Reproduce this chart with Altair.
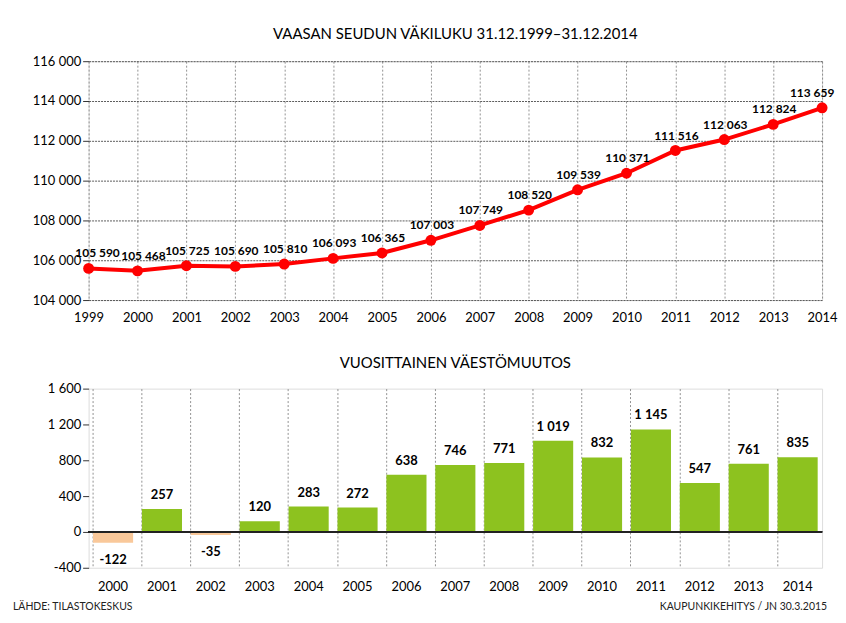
import altair as alt
import pandas as pd

years = list(range(1999, 2015))
population = [105590, 105468, 105725, 105690, 105810, 106093, 106365, 107003,
              107749, 108520, 109539, 110371, 111516, 112063, 112824, 113659]

change_years = [str(y) for y in range(2000, 2015)]
change = [-122, 257, -35, 120, 283, 272, 638, 746, 771, 1019, 832, 1145, 547, 761, 835]

FONT = "Lato, Roboto, sans-serif"


def fi(n):
    s = f"{abs(n):,}".replace(",", " ")
    return ("-" if n < 0 else "") + s


pop_df = pd.DataFrame({"year": years, "pop": population,
                       "label": [fi(v) for v in population]})
chg_df = pd.DataFrame({"year": change_years, "chg": change,
                       "label": [fi(v) for v in change],
                       "sign": ["neg" if v < 0 else "pos" for v in change],
                       "zero": [0] * len(change)})

num_expr = "replace(replace(format(datum.value, ','), ',', ' '), '\u2212', '-')"

W = 737
GRID_V = dict(gridDash=[2, 2], gridColor="#777", gridWidth=0.8)

top_base = alt.Chart(pop_df).encode(
    x=alt.X("year:Q", scale=alt.Scale(domain=[1999, 2014], nice=False, zero=False),
            axis=alt.Axis(values=years, format="d", title=None, grid=True,
                          labelFlush=False, labelOverlap=False,
                          domain=False, ticks=False, labelPadding=12,
                          labelFontSize=13, labelFont=FONT, labelColor="#000",
                          **GRID_V)),
    y=alt.Y("pop:Q", scale=alt.Scale(domain=[104000, 116000], nice=False, zero=False),
            axis=alt.Axis(values=list(range(104000, 116001, 2000)), labelExpr=num_expr,
                          title=None, grid=True, gridDash=[2, 1], gridColor="#333",
                          gridWidth=0.8, domain=False, tickSize=6, tickColor="#333",
                          labelFontSize=13, labelFont=FONT, labelColor="#000",
                          labelOverlap=False, labelFlush=False,
                          minExtent=60, maxExtent=60)),
)

top_line = top_base.mark_line(color="#FF0000", strokeWidth=4)
top_pts = top_base.mark_circle(color="#FF0000", size=120, opacity=1)
lbl = dict(fontWeight="bold", fontSize=12, font=FONT, color="#000", dy=-15)
top_txt_mid = top_base.transform_filter(
    "datum.year > 2000 && datum.year < 2014").mark_text(dx=1, **lbl).encode(text="label:N")
top_txt_first = top_base.transform_filter("datum.year == 1999").mark_text(
    dx=9, **lbl).encode(text="label:N")
top_txt_second = top_base.transform_filter("datum.year == 2000").mark_text(
    dx=6, **lbl).encode(text="label:N")
top_txt_last = top_base.transform_filter("datum.year == 2014").mark_text(
    dx=-10, **lbl).encode(text="label:N")

top = alt.layer(top_line, top_pts, top_txt_mid, top_txt_first, top_txt_second,
                top_txt_last).properties(
    width=W, height=240,
    title=alt.TitleParams("VAASAN SEUDUN VÄKILUKU 31.12.1999–31.12.2014",
                          fontSize=15, font=FONT, fontWeight="normal",
                          color="#000", offset=13))

y_scale = alt.Scale(domain=[-400, 1600], nice=False)
y_axis = alt.Axis(values=list(range(-400, 1601, 400)), labelExpr=num_expr,
                  title=None, grid=False, domain=False, tickSize=6,
                  tickColor="#333", labelFontSize=13, labelFont=FONT,
                  labelColor="#000", labelOverlap=False, labelFlush=False,
                  minExtent=60, maxExtent=60)

bot_base = alt.Chart(chg_df).encode(
    x=alt.X("year:N", scale=alt.Scale(paddingInner=0.18, paddingOuter=0.09),
            axis=alt.Axis(title=None, labelAngle=0, grid=True, bandPosition=0,
                          domain=False, ticks=False, labelPadding=13,
                          labelFontSize=13, labelFont=FONT, labelColor="#000",
                          **GRID_V)),
)

bars = bot_base.mark_bar().encode(
    y=alt.Y("chg:Q", scale=y_scale, axis=y_axis),
    color=alt.Color("sign:N", scale=alt.Scale(domain=["pos", "neg"],
                                              range=["#8DC21F", "#F9C89A"]),
                    legend=None),
)

zero_rule = alt.Chart(chg_df).mark_rule(color="#222", strokeWidth=1.2).encode(
    y=alt.Y("zero:Q", scale=y_scale, axis=y_axis))

pos_txt = bot_base.transform_filter("datum.chg >= 0").mark_text(
    dy=-14, fontWeight="bold", fontSize=13, font=FONT, color="#000"
).encode(y=alt.Y("chg:Q", scale=y_scale, axis=y_axis), text="label:N")
neg_txt = bot_base.transform_filter("datum.chg < 0").mark_text(
    dy=17, fontWeight="bold", fontSize=13, font=FONT, color="#000"
).encode(y=alt.Y("chg:Q", scale=y_scale, axis=y_axis), text="label:N")

foot_l = alt.Chart(pd.DataFrame({"t": ["LÄHDE: TILASTOKESKUS"]})).mark_text(
    align="left", baseline="middle", fontSize=10.5, font=FONT, color="#222"
).encode(text="t:N", x=alt.value(-76), y=alt.value(219))
foot_r = alt.Chart(pd.DataFrame({"t": ["KAUPUNKIKEHITYS  / JN 30.3.2015"]})).mark_text(
    align="right", baseline="middle", fontSize=10.5, font=FONT, color="#222"
).encode(text="t:N", x=alt.value(742), y=alt.value(219))

bottom = alt.layer(bars, zero_rule, pos_txt, neg_txt, foot_l, foot_r).properties(
    width=W, height=180,
    title=alt.TitleParams("VUOSITTAINEN VÄESTÖMUUTOS", fontSize=15, font=FONT,
                          fontWeight="normal", color="#000", offset=12))

chart = alt.vconcat(top, bottom, spacing=29).properties(
    padding={"left": 4, "top": 17, "right": 0, "bottom": 0},
).configure_view(stroke="#333", strokeWidth=1).configure(background="white")

chart.save("out.html", embed_options={"renderer": "svg", "actions": False})
